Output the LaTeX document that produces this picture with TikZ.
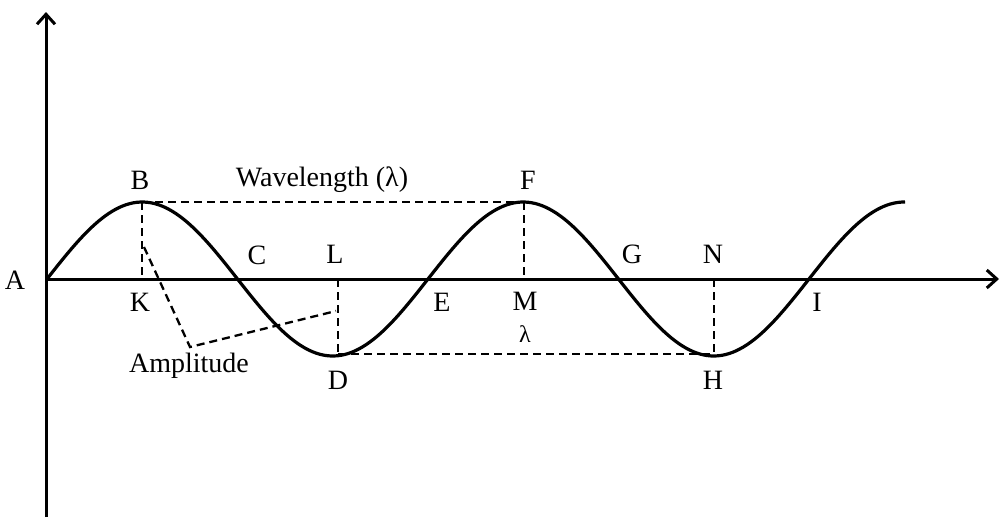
\documentclass[tikz,border=0pt]{standalone}
\usepackage{fontspec}
\setmainfont{Liberation Serif}
\usetikzlibrary{arrows.meta}
\begin{document}
\begin{tikzpicture}[x=1pt,y=-1pt,
  axis/.style={line width=3pt,-{Straight Barb[length=10pt,width=18pt,line width=3pt]}},
  wave/.style={line width=3.2pt},
  guide/.style={line width=2.3pt,dash pattern=on 8pt off 5pt},
  lbl/.style={inner sep=0pt,font=\fontsize{28}{30}\selectfont}]
\useasboundingbox (0,0) rectangle (1001,517);
% key points
\coordinate (A) at (47,279);
\coordinate (B) at (142,202);
\coordinate (K) at (142,279);
\coordinate (D) at (338,354);
\coordinate (L) at (338,279);
\coordinate (F) at (524,202);
\coordinate (M) at (524,279);
\coordinate (H) at (714,354);
\coordinate (N) at (714,279);
\coordinate (ybot) at (46,517);
\coordinate (ytop) at (46,12);
\coordinate (xend) at (999,279);
\coordinate (amp1) at (144,247);
\coordinate (amp2) at (190,347);
\coordinate (amp3) at (336,311);
% axes
\draw[axis] (ybot) -- (ytop);
\draw[axis] (A) -- (xend);
% wave
\draw[wave] plot[domain=0:858,samples=240,smooth] ({\x+47},{279-77*sin(\x*0.944882)});
% guides
\draw[guide] (B) -- (F);
\draw[guide] (D) -- (H);
\draw[guide] (B) -- (K);
\draw[guide] (F) -- (M);
\draw[guide] (L) -- (D);
\draw[guide] (N) -- (H);
\draw[guide] (amp1) -- (amp2) -- (amp3);
% labels
\node[lbl] (lA) at (15,280) {A};
\node[lbl] (lB) at (140,180) {B};
\node[lbl] (lW) at (322,180) {Wavelength (λ)};
\node[lbl] (lF) at (528,180) {F};
\node[lbl] (lC) at (257,255) {C};
\node[lbl] (lL) at (335,254) {L};
\node[lbl] (lG) at (632,254) {G};
\node[lbl] (lN) at (713,254) {N};
\node[lbl] (lK) at (140,302) {K};
\node[lbl] (lE) at (442,302) {E};
\node[lbl] (lM) at (525,301) {M};
\node[lbl] (lI) at (817,302) {I};
\node[lbl,font=\fontsize{24}{26}\selectfont] (llam) at (525,334) {λ};
\node[lbl] (lD) at (338,380) {D};
\node[lbl] (lH) at (713,380) {H};
\node[lbl] (lAmp) at (189,366) {Amplitude};
\end{tikzpicture}
\end{document}
